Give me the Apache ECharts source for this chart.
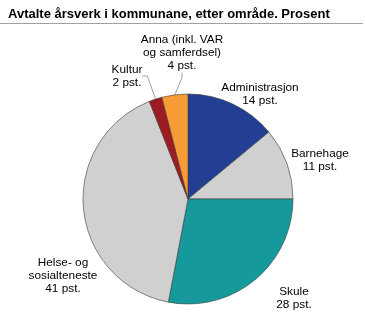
<!DOCTYPE html>
<html>
<head>
<meta charset="utf-8">
<script src="https://cdn.jsdelivr.net/npm/echarts@6/dist/echarts.min.js"></script>
<style>html,body{margin:0;padding:0;background:#fff}#c{width:365px;height:325px}</style>
</head>
<body>
<div id="c"></div>
<script>
const categories = ['Administrasjon', 'Barnehage', 'Skule', 'Helse- og\nsosialteneste', 'Kultur', 'Anna (inkl. VAR\nog samferdsel)'];
const values = [14, 11, 28, 41, 2, 4];
const colors = ['#233f94', '#d0d0d0', '#16999a', '#d0d0d0', '#9e1b22', '#f79c35'];
const showLine = [false, false, false, false, true, true];

// label layout (positions of text blocks)
const labelPos = [[260, 94], [320, 160], [294, 298], [63, 276], [127, 76], [182, 53]];

const chart = echarts.init(document.getElementById('c'), null, {renderer: 'canvas'});
chart.setOption({
  animation: false,
  title: {
    text: 'Avtalte årsverk i kommunane, etter område. Prosent',
    left: 3, top: 3,
    textStyle: {fontFamily: 'Liberation Sans, Arial, sans-serif', fontSize: 13, fontWeight: 'bold', color: '#000'}
  },
  graphic: [{
    type: 'line', shape: {x1: 0, y1: 23.5, x2: 363, y2: 23.5},
    style: {stroke: '#a0a0a0', lineWidth: 1}
  }],
  series: [{
    type: 'pie',
    center: [188, 199],
    radius: [0, 105],
    startAngle: 90,
    clockwise: true,
    avoidLabelOverlap: false,
    itemStyle: {borderColor: '#3a3a3a', borderWidth: 0.6},
    label: {
      show: true,
      position: 'outside',
      color: '#000',
      fontFamily: 'Liberation Sans, Arial, sans-serif',
      fontSize: 11.8,
      lineHeight: 13,
      align: 'center',
      formatter: p => p.name + '\n' + p.value + ' pst.'
    },
    labelLine: {show: true, length: 5, length2: 5, lineStyle: {color: '#888', width: 0.8}},
    labelLayout: p => ({x: labelPos[p.dataIndex][0], y: labelPos[p.dataIndex][1], align: 'center', verticalAlign: 'middle'}),
    data: categories.map((c, i) => ({
      name: c, value: values[i],
      itemStyle: {color: colors[i]},
      labelLine: {show: showLine[i]}
    }))
  }]
});
</script>
</body>
</html>
